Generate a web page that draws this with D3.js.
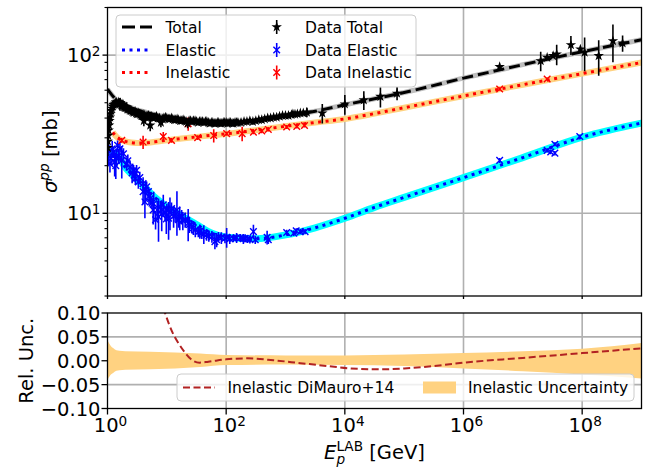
<!DOCTYPE html>
<html>
<head>
<meta charset="utf-8">
<script src="https://cdn.jsdelivr.net/npm/d3@7"></script>
<style>
  body { margin: 0; background: #fff; }
  svg text { font-family: "DejaVu Sans", sans-serif; fill: #000; }
</style>
</head>
<body>
<svg id="chart" width="659" height="468"></svg>
<script>
// ---------- model curves (energy in GeV, cross sections in mb) ----------
const modelE = [1, 1.122, 1.259, 1.413, 1.585, 1.995, 2.512, 3.162, 3.981, 6.31, 10, 17.78, 31.62, 56.23, 100, 316.2, 1e3, 3162, 1e4, 31620, 1e5, 1e6, 1e7, 1e8, 1e9];
const totalModel   = [61, 57.5, 54.5, 52, 50, 48, 46.5, 45, 44, 42, 40.5, 39.3, 38.5, 38, 37.9, 38.7, 41, 44.2, 48.5, 53, 58, 71.5, 87, 105, 125];
const elasticModel = [24.5, 24.5, 24, 23.3, 22.5, 19.5, 17.8, 16.3, 15, 12.6, 11, 9.6, 8.5, 7.5, 7.05, 6.9, 7.3, 8.1, 9.3, 10.9, 12.6, 16.8, 22.5, 30.3, 37.2];

const inelE     = [1.23, 1.413, 1.585, 1.995, 2.512, 3.162, 3.981, 6.31, 10, 17.78, 31.62, 56.23, 100, 316.2, 1e3, 3162, 1e4, 31620, 1e5, 1e6, 1e7, 1e8, 1e9];
const inelModel = [32.5, 30.5, 29.5, 28.5, 28, 27.8, 27.8, 28.3, 29, 29.7, 30.4, 31.1, 31.8, 33.5, 35.5, 37.5, 39.5, 42.7, 46.5, 55.2, 65, 76.4, 89.8];

// ---------- relative uncertainty of the inelastic cross section ----------
const uncE    = [1, 1.122, 1.259, 1.413, 1.585, 1.995, 5.25, 36.3, 100, 1e3, 1e4, 1e5, 1e6, 1e7, 1e8, 1e9];
const uncHigh = [0.043, 0.032, 0.026, 0.022, 0.021, 0.020, 0.019, 0.015, 0.012, 0.011, 0.011, 0.013, 0.016, 0.020, 0.025, 0.037];
const uncLow  = [-0.040, -0.030, -0.025, -0.021, -0.020, -0.019, -0.018, -0.013, -0.009, -0.008, -0.009, -0.011, -0.016, -0.022, -0.029, -0.037];

// DiMauro+14 inelastic parametrisation relative to this model
const dmE     = [6.31, 9.33, 12.6, 15.85, 19.95, 25.1, 35.5, 50.1, 100, 224, 631, 1778, 5012, 12590, 39810, 1e5, 316200, 1e6, 1e7, 1e8, 1e9];
const dmRatio = [0.175, 0.10, 0.058, 0.036, 0.018, 0.004, -0.004, -0.002, 0.003, 0.005, 0.001, -0.005, -0.011, -0.016, -0.018, -0.016, -0.011, -0.004, 0.006, 0.016, 0.026];

// ---------- measurements ----------
const totalDataE = [1.007, 1.018, 1.03, 1.047, 1.064, 1.084, 1.104, 1.127, 1.153, 1.18, 1.216, 1.259, 1.303, 1.349, 1.39, 1.413, 1.479, 1.51, 1.549, 1.622, 1.66, 1.698, 1.74, 1.778, 1.82, 1.862, 1.91, 1.95, 2.0, 2.04, 2.09, 2.14, 2.19, 2.29, 2.37, 2.45, 2.54, 2.63, 2.72, 2.82, 2.92, 3.02, 3.13, 3.24, 3.36, 3.47, 3.6, 3.72, 3.85, 3.98, 4.1, 4.12, 4.27, 4.42, 4.57, 4.74, 4.9, 5.07, 5.25, 5.43, 5.62, 5.95, 6.31, 6.68, 7.08, 7.5, 7.94, 8.4, 8.91, 9.44, 10, 10.6, 11.2, 11.9, 12.6, 13.3, 14.1, 14.9, 15.8, 16.8, 17.8, 18.8, 20, 21.1, 22.4, 23.7, 25.1, 26.6, 28.2, 29.9, 31.6, 33.5, 35.5, 37.6, 39.8, 42.2, 44.7, 47.3, 50.1, 53.1, 56.2, 59.6, 63.1, 66.8, 70.8, 75, 79.4, 84.1, 89.1, 94.4, 100, 106, 112, 119, 126, 133, 141, 150, 158, 178, 200, 224, 251, 282, 316, 355, 398, 447, 501, 562, 631, 708, 794, 891, 1000, 1122, 1259, 1334, 1445, 1585, 1778, 1995, 2291, 4169, 1e4, 2.09e4, 3.98e4, 7.59e4, 4.07e6, 2.0e7, 2.57e7, 3.24e7, 3.72e7, 6.46e7, 9.33e7, 1.1e8, 1.9e8, 3.3e8, 4.8e8];
const totalDataXS = [26, 28.5, 31, 33.5, 36, 38.5, 40.5, 42.5, 44.5, 46, 47.5, 48.5, 49, 49.5, 50.5, 50, 49, 49.5, 50.5, 49, 50, 48.5, 48, 48, 49, 47.5, 47, 47, 46.5, 46.5, 47, 46, 45.5, 45.5, 45, 44.5, 44.5, 44, 43.5, 43.5, 44, 43, 42.5, 42.5, 43, 42.5, 42, 41.5, 41.5, 42, 38.5, 42, 41.5, 40.5, 41, 41, 41.5, 40.5, 36, 41, 40.5, 40, 40.5, 41, 40, 40, 37.5, 39.5, 40, 40.5, 40, 39.5, 39.5, 40, 39.5, 39, 39, 39.5, 39, 38.5, 38.5, 39, 38.5, 38, 37, 38.5, 38.5, 38, 38.5, 38.5, 38, 37.5, 38, 38, 38, 37.5, 38, 38, 37.5, 37, 37.5, 37.5, 37, 37, 37.5, 37.5, 37, 37, 37.5, 37.5, 37.5, 37, 37.5, 37.5, 37, 37, 37.5, 37.5, 37.5, 37.5, 38, 38, 38.5, 38, 38.5, 39, 39, 39.5, 40, 40, 40.5, 40.5, 41, 41.5, 41.5, 41.5, 42, 42.5, 42.3, 42.5, 43, 43, 43.5, 43, 49, 52, 54.7, 57.3, 84.4, 92, 96.6, 99, 101.4, 116, 109, 104, 99, 123, 119];
const totalDataErr = [3, 2.5, 2, 2, 2, 2, 2, 2, 2, 2, 2, 2, 2, 2.5, 2, 2, 2, 2, 2, 4.5, 2, 2, 2, 2, 2, 2, 2, 2, 2.5, 2, 2, 2, 2, 2, 2, 2, 2, 2, 2, 2, 2, 2, 2, 2, 2, 2, 2, 2, 2, 2, 3, 2, 2, 2, 2, 2, 2, 2, 3, 1.5, 1.5, 1.5, 1.5, 1.5, 1.5, 1.5, 2.5, 1.5, 1.5, 1.5, 1.5, 1.5, 1.5, 1.5, 1.5, 1.5, 1.5, 1.5, 1.5, 1.5, 1.5, 1.5, 1.5, 1.5, 2.5, 1.5, 1.5, 1.5, 1.5, 1.5, 1.5, 1.5, 1.5, 1.5, 1.5, 1.5, 1.5, 1.5, 1.5, 1.5, 1.5, 1.5, 1.5, 1.5, 1.5, 1.5, 1.5, 1.5, 1.5, 1.5, 1.5, 1.5, 1.5, 1.5, 1.5, 1.5, 1.5, 1.5, 1.5, 1.5, 1.5, 1.5, 1.5, 1.5, 1.5, 1.5, 1.5, 1.5, 1.5, 1.5, 1.5, 1.5, 1.5, 1.5, 1.5, 1.5, 1.5, 1.5, 1.5, 1.5, 1.5, 1.5, 3, 6, 7, 7, 8, 5.5, 2, 13, 3, 3, 15, 16, 4, 25, 25, 33, 14];

const elasticDataE = [1.03, 1.1, 1.15, 1.2, 1.26, 1.32, 1.38, 1.43, 1.48, 1.55, 1.62, 1.74, 1.86, 2.09, 2.2, 2.4, 2.6, 2.75, 2.82, 3.09, 2.95, 3.31, 3.5, 3.98, 4.4, 4.57, 3.98, 4.9, 5.0, 5.25, 4.27, 5.62, 5.89, 6.0, 7.24, 6.46, 6.9, 7.76, 8.2, 8.71, 9.33, 9.8, 10, 10.7, 11.3, 12, 13.0, 13.8, 14.8, 15.8, 16.5, 17.8, 18.6, 20.4, 22.9, 24, 26.3, 28, 30.2, 33.9, 36, 38.9, 42, 46.8, 51, 57.5, 64.6, 69, 74.1, 83, 95.5, 102, 115, 132, 150, 174, 195, 209, 230, 251, 288, 309, 490, 513, 1047, 1380, 1514, 1778, 2138, 4.07e6, 2.57e7, 2.95e7, 3.47e7, 3.47e7, 9.12e7];
const elasticDataXS = [23.8, 20.6, 22.2, 25.6, 24.4, 21.1, 20, 22.7, 26.9, 23, 25.6, 21.6, 23.8, 20.6, 21.5, 19.6, 18, 18.7, 17.4, 18.7, 16.6, 15.8, 16.8, 15.4, 14, 14.7, 13.7, 13.7, 12.8, 12.4, 11.8, 11.6, 10.5, 11.5, 9.5, 9.1, 10.5, 11.0, 9.9, 11.3, 10.0, 9.2, 10.5, 9.3, 10.2, 10.7, 9.6, 9.75, 10.5, 9.1, 9.4, 9.5, 9.0, 9.1, 8.65, 8.5, 8.24, 8.1, 7.85, 7.66, 7.7, 7.48, 7.4, 7.3, 7.2, 7.12, 6.62, 6.8, 7.12, 7.0, 6.96, 7.06, 6.9, 6.96, 7.0, 7.0, 6.9, 6.96, 6.9, 6.85, 7.66, 6.8, 7.06, 6.8, 7.56, 7.48, 7.75, 7.66, 7.66, 21.6, 25.0, 24.4, 27.3, 24.0, 30.6];
const elasticDataErr = [4, 2.5, 2, 3, 2, 4, 3.5, 3, 2, 2.5, 2, 5, 2, 2, 2, 2, 2.5, 1.5, 1.5, 1.5, 1.5, 1.5, 1.5, 1.5, 2, 1.2, 2.3, 1, 1.5, 1, 2.5, 1, 2, 2.2, 2.9, 1.2, 1.5, 1, 2.2, 1.8, 1, 1.8, 1, 2.5, 2.4, 1, 1.5, 1, 3.3, 1, 1.6, 1, 1.2, 1, 2, 1, 0.8, 0.8, 0.8, 0.6, 0.8, 0.6, 1, 0.6, 0.6, 0.6, 0.7, 0.7, 0.5, 0.6, 0.5, 1, 0.5, 0.4, 0.5, 0.4, 0.5, 0.4, 0.4, 0.4, 0.8, 0.4, 0.7, 0.4, 0.3, 0.3, 0.3, 0.3, 0.3, 0.8, 0.8, 0.8, 0.8, 0.8, 0.8];

const inelDataE   = [1.74, 3.98, 8.71, 12.0, 22.9, 33.1, 61.7, 102, 186, 288, 398, 513, 1047, 1549, 2089, 4.07e6, 2.57e7];
const inelDataXS  = [28.9, 28.2, 30.6, 28.9, 36.8, 30.1, 31.0, 31.9, 31.9, 32.6, 33.1, 33.9, 35.1, 35.4, 35.9, 61.1, 70.6];
const inelDataErr = [1, 2.7, 2, 1, 3.5, 1, 3, 1, 3.4, 1, 1, 1, 1, 1, 1, 1.5, 1.5];

// ---------- tick labels ----------
const xTickExps = [0, 2, 4, 6, 8];
const yTopMajor = [10, 100];
const yTopMinor = [3, 4, 5, 6, 7, 8, 9, 20, 30, 40, 50, 60, 70, 80, 90, 200];
const yBotTicks = [0.10, 0.05, 0.00, -0.05, -0.10];
const yBotLabels = ["0.10", "0.05", "0.00", "\u22120.05", "\u22120.10"];

// ---------- layout ----------
const L = 107.5, R = 641.5;
const T1 = 7.5, B1 = 296, T2 = 313, B2 = 408.5;
const TICK_FS = 19.5, LEG_FS = 15.5;

const svg = d3.select("#chart");
const x = d3.scaleLog().domain([1, 1e9]).range([L, R]);
const y1 = d3.scaleLog().domain([3, 200]).range([B1, T1]);
const y2 = d3.scaleLinear().domain([-0.1, 0.1]).range([B2, T2]);

const defs = svg.append("defs");
defs.append("clipPath").attr("id", "clipTop").append("rect")
  .attr("x", L).attr("y", T1).attr("width", R - L).attr("height", B1 - T1);
defs.append("clipPath").attr("id", "clipBot").append("rect")
  .attr("x", L).attr("y", T2).attr("width", R - L).attr("height", B2 - T2);

const GRID = "#b0b0b0";
const xMajor = xTickExps.map(k => Math.pow(10, k));

// ---------- grids ----------
const gridTop = svg.append("g");
gridTop.selectAll("line.vx").data(xMajor.slice(1)).join("line")
  .attr("x1", d => x(d)).attr("x2", d => x(d)).attr("y1", T1).attr("y2", B1)
  .attr("stroke", GRID).attr("stroke-width", 1.6);
gridTop.selectAll("line.hy").data(yTopMajor).join("line")
  .attr("x1", L).attr("x2", R).attr("y1", d => y1(d)).attr("y2", d => y1(d))
  .attr("stroke", GRID).attr("stroke-width", 1.6);

const gridBot = svg.append("g");
gridBot.selectAll("line.vx").data(xMajor.slice(1)).join("line")
  .attr("x1", d => x(d)).attr("x2", d => x(d)).attr("y1", T2).attr("y2", B2)
  .attr("stroke", GRID).attr("stroke-width", 1.6);
gridBot.selectAll("line.hy").data([-0.05, 0, 0.05]).join("line")
  .attr("x1", L).attr("x2", R).attr("y1", d => y2(d)).attr("y2", d => y2(d))
  .attr("stroke", GRID).attr("stroke-width", 1.6);

// ---------- top panel: model curves ----------
const panelTop = svg.append("g").attr("clip-path", "url(#clipTop)");
const lineTop = d3.line().x(d => x(d[0])).y(d => y1(d[1])).curve(d3.curveMonotoneX);
const totalPts = modelE.map((e, i) => [e, totalModel[i]]);
const elPts = modelE.map((e, i) => [e, elasticModel[i]]);
const inPts = inelE.map((e, i) => [e, inelModel[i]]);

// uncertainty bands behind each curve
panelTop.append("path").attr("d", lineTop(totalPts)).attr("fill", "none")
  .attr("stroke", "#bdbdbd").attr("stroke-width", 5);
panelTop.append("path").attr("d", lineTop(inPts)).attr("fill", "none")
  .attr("stroke", "#ffd281").attr("stroke-width", 6);
panelTop.append("path").attr("d", lineTop(elPts)).attr("fill", "none")
  .attr("stroke", "#00ffff").attr("stroke-width", 7);

panelTop.append("path").attr("d", lineTop(totalPts)).attr("fill", "none")
  .attr("stroke", "#000").attr("stroke-width", 3).attr("stroke-dasharray", "11,5");
panelTop.append("path").attr("d", lineTop(elPts)).attr("fill", "none")
  .attr("stroke", "#0000ff").attr("stroke-width", 3).attr("stroke-dasharray", "3,4.5");
panelTop.append("path").attr("d", lineTop(inPts)).attr("fill", "none")
  .attr("stroke", "#ff0000").attr("stroke-width", 3).attr("stroke-dasharray", "3,4.5");

// ---------- marker helpers ----------
const starPath = d3.symbol().type(d3.symbolStar).size(34)();
function drawErr(g, cx, yLo, yHi, color) {
  g.append("line").attr("x1", cx).attr("x2", cx).attr("y1", yLo).attr("y2", yHi)
    .attr("stroke", color).attr("stroke-width", 1.6);
}
function drawX(g, cx, cy, color) {
  const s = 3.3;
  g.append("path").attr("d", `M${cx - s},${cy - s}L${cx + s},${cy + s}M${cx - s},${cy + s}L${cx + s},${cy - s}`)
    .attr("stroke", color).attr("stroke-width", 1.4).attr("fill", "none");
}
function drawStar(g, cx, cy, color) {
  g.append("path").attr("d", starPath).attr("transform", `translate(${cx},${cy})`).attr("fill", color);
}

// ---------- top panel: measurements ----------
const dataG = panelTop.append("g");
elasticDataE.forEach((e, i) => {
  const v = elasticDataXS[i], er = elasticDataErr[i];
  drawErr(dataG, x(e), y1(v - er), y1(v + er), "#0000ff");
  drawX(dataG, x(e), y1(v), "#0000ff");
});
inelDataE.forEach((e, i) => {
  const v = inelDataXS[i], er = inelDataErr[i];
  drawErr(dataG, x(e), y1(v - er), y1(v + er), "#ff0000");
  drawX(dataG, x(e), y1(v), "#ff0000");
});
totalDataE.forEach((e, i) => {
  const v = totalDataXS[i], er = totalDataErr[i];
  drawErr(dataG, x(e), y1(v - er), y1(v + er), "#000");
  drawStar(dataG, x(e), y1(v), "#000");
});

// ---------- bottom panel ----------
const panelBot = svg.append("g").attr("clip-path", "url(#clipBot)");
const band = d3.area().x((d, i) => x(uncE[i])).y0((d, i) => y2(uncLow[i])).y1((d, i) => y2(uncHigh[i]))
  .curve(d3.curveMonotoneX);
panelBot.append("path").attr("d", band(uncE)).attr("fill", "#ffd281");
const lineBot = d3.line().x((d, i) => x(dmE[i])).y((d, i) => y2(dmRatio[i])).curve(d3.curveMonotoneX);
panelBot.append("path").attr("d", lineBot(dmE)).attr("fill", "none")
  .attr("stroke", "#b22222").attr("stroke-width", 2).attr("stroke-dasharray", "7,3.5");

// ---------- axes: ticks ----------
const axG = svg.append("g").attr("stroke", "#000");
yTopMajor.forEach(v => axG.append("line").attr("x1", L - 5).attr("x2", L).attr("y1", y1(v)).attr("y2", y1(v)).attr("stroke-width", 1.3));
yTopMinor.forEach(v => axG.append("line").attr("x1", L - 3).attr("x2", L).attr("y1", y1(v)).attr("y2", y1(v)).attr("stroke-width", 1.1));
xMajor.forEach(v => {
  axG.append("line").attr("x1", x(v)).attr("x2", x(v)).attr("y1", B1).attr("y2", B1 + 3).attr("stroke-width", 1.3);
  axG.append("line").attr("x1", x(v)).attr("x2", x(v)).attr("y1", B2).attr("y2", B2 + 6).attr("stroke-width", 1.3);
});
yBotTicks.forEach(v => axG.append("line").attr("x1", L - 6).attr("x2", L).attr("y1", y2(v)).attr("y2", y2(v)).attr("stroke-width", 1.3));

// tick labels
function powLabel(t, k) {
  t.append("tspan").text("10");
  t.append("tspan").attr("font-size", (TICK_FS * 0.7) + "px").attr("dy", -6).text(k);
}
yTopMajor.forEach(v => {
  const t = svg.append("text").attr("x", 100.5).attr("y", y1(v) + 7).attr("text-anchor", "end")
    .attr("font-size", TICK_FS + "px");
  powLabel(t, Math.round(Math.log10(v)));
});
xTickExps.forEach(k => {
  const t = svg.append("text").attr("x", x(Math.pow(10, k)) + 3).attr("y", 432).attr("text-anchor", "middle")
    .attr("font-size", TICK_FS + "px");
  powLabel(t, k);
});
yBotTicks.forEach((v, i) => {
  svg.append("text").attr("x", 100.5).attr("y", y2(v) + 7).attr("text-anchor", "end")
    .attr("font-size", TICK_FS + "px").text(yBotLabels[i]);
});

// axis labels
const yl = svg.append("text").attr("transform", `translate(57,${(T1 + B1) / 2}) rotate(-90)`)
  .attr("text-anchor", "middle").attr("font-size", TICK_FS + "px");
yl.append("tspan").attr("font-style", "italic").text("\u03c3");
yl.append("tspan").attr("font-style", "italic").attr("font-size", (TICK_FS * 0.7) + "px").attr("dy", -8).text("pp");
yl.append("tspan").attr("dy", 8).text(" [mb]");

svg.append("text").attr("transform", `translate(33,${(T2 + B2) / 2}) rotate(-90)`)
  .attr("text-anchor", "middle").attr("font-size", TICK_FS + "px").text("Rel. Unc.");

// x label: E with subscript p and superscript LAB stacked
const xl = svg.append("text").attr("x", (L + R) / 2).attr("y", 459).attr("text-anchor", "middle")
  .attr("font-size", TICK_FS + "px");
xl.append("tspan").attr("font-style", "italic").text("E");
xl.append("tspan").attr("font-style", "italic").attr("font-size", (TICK_FS * 0.7) + "px").attr("dy", 4.5).text("p");
xl.append("tspan").attr("font-size", (TICK_FS * 0.7) + "px").attr("dx", -8.7).attr("dy", -13).text("LAB");
xl.append("tspan").attr("dy", 8.5).text(" [GeV]");

// ---------- legends ----------
const leg = svg.append("g");
leg.append("rect").attr("x", 116).attr("y", 15).attr("width", 300).attr("height", 72).attr("rx", 4)
  .attr("fill", "#fff").attr("fill-opacity", 0.8).attr("stroke", "#cccccc").attr("stroke-width", 1);
const rows = [27, 50, 72.5];
const lineKeys = [
  { label: "Total", color: "#000", dash: "13,5" },
  { label: "Elastic", color: "#0000ff", dash: "3,4.5" },
  { label: "Inelastic", color: "#ff0000", dash: "3,4.5" }
];
lineKeys.forEach((k, i) => {
  leg.append("line").attr("x1", 122).attr("x2", 152).attr("y1", rows[i]).attr("y2", rows[i])
    .attr("stroke", k.color).attr("stroke-width", 3).attr("stroke-dasharray", k.dash);
  leg.append("text").attr("x", 165.5).attr("y", rows[i] + 5.5).attr("font-size", LEG_FS + "px").text(k.label);
});
const dataKeys = [
  { label: "Data Total", color: "#000", mark: "star" },
  { label: "Data Elastic", color: "#0000ff", mark: "x" },
  { label: "Data Inelastic", color: "#ff0000", mark: "x" }
];
dataKeys.forEach((k, i) => {
  drawErr(leg, 276.7, rows[i] - 7, rows[i] + 7, k.color);
  if (k.mark === "star") drawStar(leg, 276.7, rows[i], k.color);
  else drawX(leg, 276.7, rows[i], k.color);
  leg.append("text").attr("x", 305).attr("y", rows[i] + 5.5).attr("font-size", LEG_FS + "px").text(k.label);
});

const leg2 = svg.append("g");
leg2.append("rect").attr("x", 177).attr("y", 374).attr("width", 457).attr("height", 27).attr("rx", 4)
  .attr("fill", "#fff").attr("fill-opacity", 0.8).attr("stroke", "#cccccc").attr("stroke-width", 1);
leg2.append("line").attr("x1", 183).attr("x2", 215).attr("y1", 387.5).attr("y2", 387.5)
  .attr("stroke", "#b22222").attr("stroke-width", 2).attr("stroke-dasharray", "7,3.5");
leg2.append("text").attr("x", 227.5).attr("y", 393).attr("font-size", LEG_FS + "px").text("Inelastic DiMauro+14");
leg2.append("rect").attr("x", 423).attr("y", 381.5).attr("width", 33).attr("height", 12).attr("fill", "#ffd281");
leg2.append("text").attr("x", 468).attr("y", 393).attr("font-size", LEG_FS + "px").text("Inelastic Uncertainty");

// ---------- spines ----------
[[T1, B1], [T2, B2]].forEach(([t, b]) => {
  svg.append("rect").attr("x", L).attr("y", t).attr("width", R - L).attr("height", b - t)
    .attr("fill", "none").attr("stroke", "#000").attr("stroke-width", 1.3);
});
</script>
</body>
</html>
